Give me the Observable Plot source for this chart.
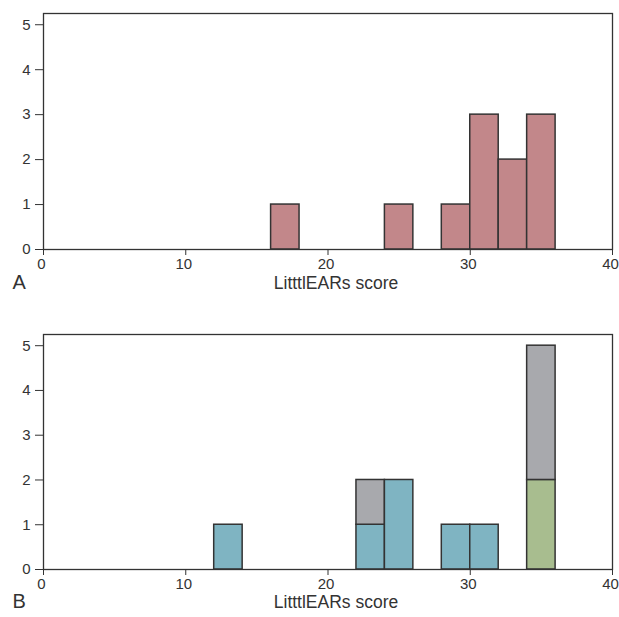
<!DOCTYPE html>
<html>
<head>
<meta charset="utf-8">
<script src="https://cdn.jsdelivr.net/npm/d3@7"></script>
<script src="https://cdn.jsdelivr.net/npm/@observablehq/plot@0.6"></script>
<style>
  html, body { margin: 0; padding: 0; background: #fff; overflow: hidden; }
  #chart svg { display: block; overflow: visible; }
</style>
</head>
<body>
<div id="chart"></div>
<script>
// Panel A: histogram bins (start of 2-wide bins) and counts
const binStartA = [16, 24, 28, 30, 32, 34];
const countsA   = [1, 1, 1, 3, 2, 3];

// Panel B: stacked histogram
const binStartB = [12, 22, 24, 28, 30, 34];
const blueB     = [1, 1, 2, 1, 1, 0];
const greenB    = [0, 0, 0, 0, 0, 2];
const grayB     = [0, 1, 0, 0, 0, 3];

const binWidth = 2;
const xTicks = [0, 10, 20, 30, 40];
const yTicks = [0, 1, 2, 3, 4, 5];
const xLabel = "LitttlEARs score";

const colA = "#c2878a";
const colBlue = "#7fb4c2";
const colGreen = "#a8bd8f";
const colGray = "#a8a9ad";
const ink = "#333";

const dataA = binStartA.map((s, i) => ({x1: s, x2: s + binWidth, y1: 0, y2: countsA[i]}));

const dataB = [];
binStartB.forEach((s, i) => {
  let base = 0;
  [["blue", blueB[i], colBlue], ["green", greenB[i], colGreen], ["gray", grayB[i], colGray]].forEach(([k, v, c]) => {
    if (v > 0) { dataB.push({x1: s, x2: s + binWidth, y1: base, y2: base + v, fill: c}); base += v; }
  });
});

function panel(data, letter, opts) {
  return Plot.plot({
    width: 619,
    height: opts.height,
    marginTop: opts.marginTop,
    marginBottom: opts.marginBottom,
    marginLeft: 43,
    marginRight: 7,
    style: {fontFamily: "'Liberation Sans', Arial, sans-serif", fontSize: "15px", color: ink, background: "#fff", overflow: "visible"},
    x: {domain: [0, 40], ticks: xTicks},
    y: {domain: [0, 5.25], ticks: yTicks},
    marks: [
      Plot.rect(data, {x1: "x1", x2: "x2", y1: "y1", y2: "y2", fill: d => d.fill || colA, stroke: ink, strokeWidth: 1.5}),
      Plot.frame({stroke: ink, strokeWidth: 1.3}),
      Plot.axisX({ticks: xTicks, tickFormat: () => "", tickSize: 6, stroke: ink, label: null}),
      Plot.axisX({ticks: xTicks, tickFormat: "d", tickSize: 0, tickPadding: 9, dx: -2, stroke: "none", fill: ink, fontSize: 15, label: null}),
      Plot.axisY({ticks: yTicks, tickFormat: "d", tickSize: 8, tickPadding: 5, stroke: ink, fill: ink, fontSize: 15, label: null}),
      Plot.text([xLabel], {frameAnchor: "bottom", dx: 8, dy: opts.labelDy, fontSize: 17.5, fill: ink}),
      Plot.text([letter], {frameAnchor: "bottom-left", dx: -31, dy: opts.labelDy, fontSize: 20, fill: ink})
    ]
  });
}

const chart = document.getElementById("chart");
chart.append(panel(dataA, "A", {height: 310, marginTop: 13, marginBottom: 61, labelDy: 39}));
chart.append(panel(dataB, "B", {height: 307, marginTop: 24, marginBottom: 48, labelDy: 38}));
</script>
</body>
</html>
